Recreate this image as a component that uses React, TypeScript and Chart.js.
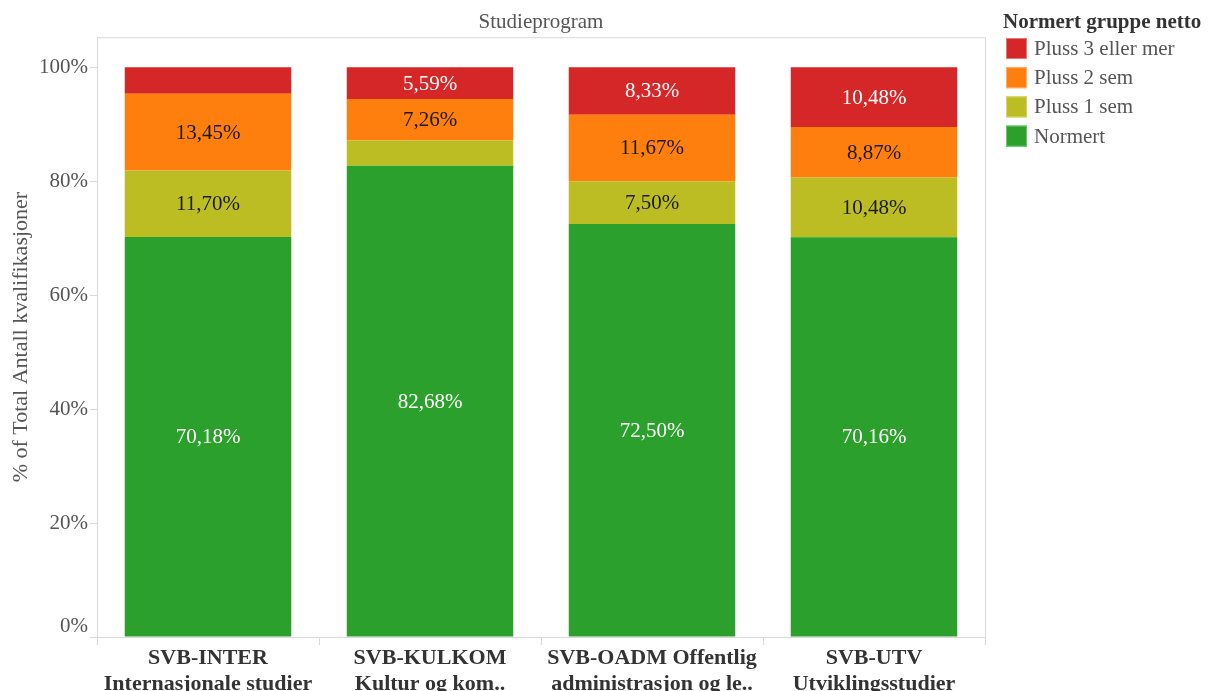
import React, { useEffect, useRef } from "react";
import { Chart, registerables } from "chart.js";

Chart.register(...registerables);

const categories: string[][] = [
  ["SVB-INTER", "Internasjonale studier"],
  ["SVB-KULKOM", "Kultur og kom.."],
  ["SVB-OADM Offentlig", "administrasjon og le.."],
  ["SVB-UTV", "Utviklingsstudier"],
];
const normert = [70.18, 82.68, 72.5, 70.16];
const pluss1 = [11.7, 4.47, 7.5, 10.48];
const pluss2 = [13.45, 7.26, 11.67, 8.87];
const pluss3 = [4.67, 5.59, 8.33, 10.48];
const yTickValues = [0, 20, 40, 60, 80, 100];

const seriesNames = ["Normert", "Pluss 1 sem", "Pluss 2 sem", "Pluss 3 eller mer"];
const seriesColors = ["#2ca02c", "#bcbd22", "#ff7f0e", "#d62728"];
const legendBorders = ["#6fc46f", "#d6d76f", "#ffb066", "#e67a7b"];
const labelColors = ["#ffffff", "#1a1a1a", "#1a1a1a", "#ffffff"];

const FONT = '"Liberation Serif", "Times New Roman", serif';
const GRAY = "#555555";
const LINE = "#d9d9d9";

const fmt = (v: number) => v.toFixed(2).replace(".", ",") + "%";

const framePlugin = {
  id: "frame",
  beforeDatasetsDraw(chart: any) {
    const { ctx, chartArea } = chart;
    ctx.save();
    ctx.strokeStyle = LINE;
    ctx.lineWidth = 1;
    ctx.strokeRect(chartArea.left + 0.5, chartArea.top + 0.5, chartArea.right - chartArea.left, chartArea.bottom - chartArea.top);
    ctx.restore();
  },
};

const yLabelPlugin = {
  id: "yLabels",
  afterDraw(chart: any) {
    const { ctx } = chart;
    const y = chart.scales.y;
    ctx.save();
    ctx.font = `21px ${FONT}`;
    ctx.fillStyle = GRAY;
    ctx.textAlign = "right";
    ctx.textBaseline = "middle";
    yTickValues.forEach((v) => {
      let py = y.getPixelForValue(v);
      if (v === 0) py -= 11;
      ctx.fillText(v + "%", 88, py);
    });
    ctx.restore();
  },
};

const dataLabelPlugin = {
  id: "dataLabels",
  afterDatasetsDraw(chart: any) {
    const { ctx } = chart;
    ctx.save();
    ctx.font = `21px ${FONT}`;
    ctx.textAlign = "center";
    ctx.textBaseline = "middle";
    chart.data.datasets.forEach((ds: any, di: number) => {
      const meta = chart.getDatasetMeta(di);
      meta.data.forEach((el: any, i: number) => {
        const v = ds.data[i] as number;
        if (v < 5) return;
        ctx.fillStyle = labelColors[di];
        ctx.fillText(fmt(v), el.x, (el.y + el.base) / 2 + 1);
      });
    });
    ctx.restore();
  },
};

const legendPlugin = {
  id: "customLegend",
  afterDraw(chart: any) {
    const { ctx } = chart;
    ctx.save();
    ctx.textBaseline = "middle";
    ctx.textAlign = "left";
    ctx.fillStyle = "#333333";
    ctx.font = `bold 21px ${FONT}`;
    ctx.fillText("Normert gruppe netto", 1003, 23);
    const ds = chart.data.datasets;
    const order = ds.map((_: any, i: number) => i).reverse();
    order.forEach((di: number, k: number) => {
      const cy = 48.5 + k * 29.2;
      ctx.fillStyle = ds[di].backgroundColor;
      ctx.fillRect(1006, cy - 10.5, 21, 21);
      ctx.strokeStyle = legendBorders[di];
      ctx.lineWidth = 1;
      ctx.strokeRect(1006.5, cy - 10, 20, 20);
      ctx.fillStyle = GRAY;
      ctx.font = `21px ${FONT}`;
      ctx.fillText(ds[di].label, 1034, cy + 1);
    });
    ctx.restore();
  },
};

export default function App() {
  const ref = useRef<HTMLCanvasElement | null>(null);
  useEffect(() => {
    if (!ref.current) return;
    const values = [normert, pluss1, pluss2, pluss3];
    const chart = new Chart(ref.current, {
      type: "bar",
      data: {
        labels: categories,
        datasets: values.map((d, i) => ({
          label: seriesNames[i],
          data: d,
          backgroundColor: seriesColors[i],
          borderWidth: 0,
          barPercentage: 0.75,
          categoryPercentage: 1,
        })),
      },
      options: {
        animation: false,
        responsive: false,
        layout: { padding: { left: 0, right: 226, top: 0, bottom: 0 } },
        plugins: {
          legend: { display: false },
          tooltip: { enabled: false },
          title: {
            display: true,
            text: "Studieprogram",
            fullSize: false,
            color: GRAY,
            font: { family: FONT, size: 21, weight: "normal", lineHeight: 1.2 },
            padding: { top: 10, bottom: 2 },
          },
        },
        scales: {
          x: {
            stacked: true,
            grid: { display: true, drawOnChartArea: false, drawTicks: true, tickLength: 8, color: LINE, offset: true },
            border: { display: true, color: LINE },
            ticks: { color: "#333333", font: { family: FONT, size: 22, weight: "bold", lineHeight: 1.18 }, padding: 0, maxRotation: 0, autoSkip: false },
            afterFit: (s: any) => { s.height = 54; },
          },
          y: {
            stacked: true,
            min: 0,
            max: 105.26,
            grid: { display: true, drawOnChartArea: false, drawTicks: true, tickLength: 7, color: LINE },
            border: { display: true, color: LINE },
            afterBuildTicks: (s: any) => { s.ticks = yTickValues.map((v) => ({ value: v })); },
            ticks: { display: false },
            title: {
              display: true,
              text: "% of Total Antall kvalifikasjoner",
              color: GRAY,
              font: { family: FONT, size: 22, lineHeight: 1.2 },
              padding: { top: 8, bottom: 0 },
            },
            afterFit: (s: any) => { s.width = 97; },
          },
        },
      } as any,
      plugins: [framePlugin, dataLabelPlugin, yLabelPlugin, legendPlugin],
    });
    return () => chart.destroy();
  }, []);
  return (
    <div style={{ position: "fixed", left: 0, top: 0, width: 1211, height: 691, background: "#fff" }}>
      <canvas ref={ref} width={1211} height={691} />
    </div>
  );
}
